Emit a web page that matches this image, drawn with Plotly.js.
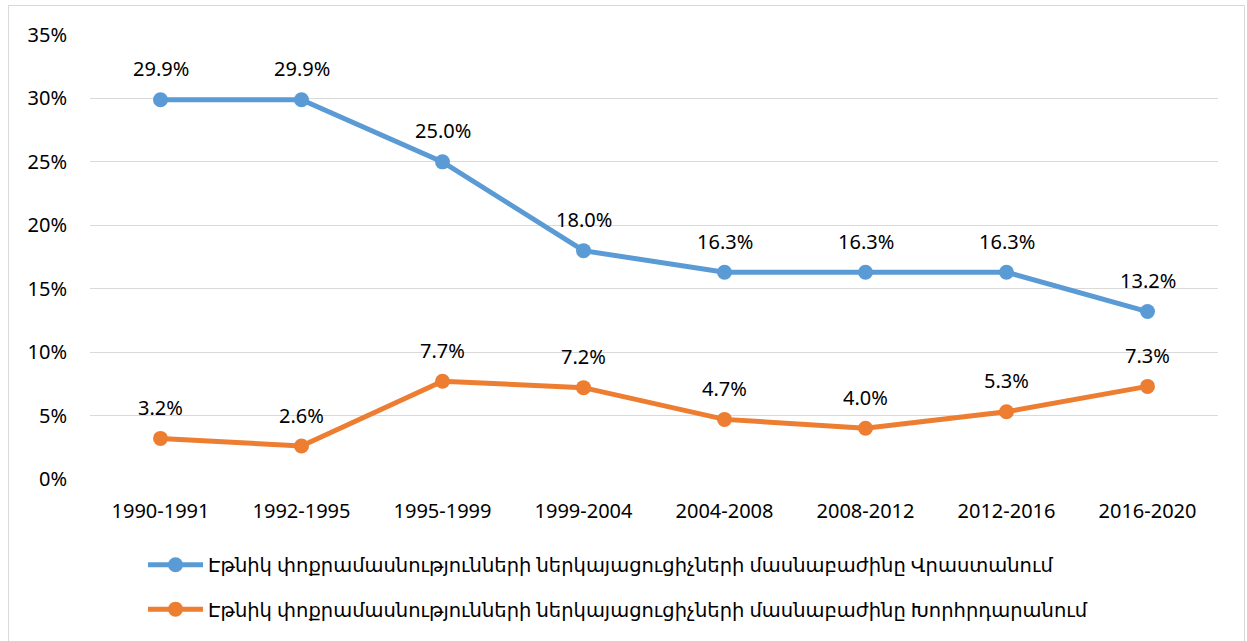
<!DOCTYPE html>
<html><head><meta charset="utf-8">
<script src="https://cdn.plot.ly/plotly-3.0.1.min.js"></script>
<style>
body{margin:0;background:#fff;}
#frame{position:absolute;left:8px;top:5px;width:1237px;height:640px;border:1px solid #d9d9d9;box-sizing:border-box;}
#chart{position:absolute;left:0;top:0;width:1247px;height:641px;}
</style></head>
<body>
<div id="frame"></div>
<div id="chart"></div>
<script>
const periods = ["1990-1991","1992-1995","1995-1999","1999-2004","2004-2008","2008-2012","2012-2016","2016-2020"];
const georgia = [29.9, 29.9, 25.0, 18.0, 16.3, 16.3, 16.3, 13.2];
const javakheti = [3.2, 2.6, 7.7, 7.2, 4.7, 4.0, 5.3, 7.3];
const nameGeorgia = "Էթնիկ փոքրամասնությունների ներկայացուցիչների մասնաբաժինը Վրաստանում";
const nameJavakheti = "Էթնիկ փոքրամասնությունների ներկայացուցիչների մասնաբաժինը Խորհրդարանում";
const yTicks = [0,5,10,15,20,25,30,35];
const yTickText = yTicks.map(v => v + "%");

const FONT = "'Noto Sans', 'DejaVu Sans', sans-serif";
function tr(vals, name, color, grp){
  return {
    x: periods, y: vals, name: name, type: "scatter", mode: "lines+markers",
    line: {color: color, width: 5},
    marker: {color: color, size: 15},
    cliponaxis: false,
    legendgroup: grp
  };
}
const data = [tr(georgia, nameGeorgia, "#5B9BD5", "a"), tr(javakheti, nameJavakheti, "#ED7D31", "b")];
const annotations = [];
[georgia, javakheti].forEach(series => {
  series.forEach((v, i) => {
    annotations.push({x: periods[i], y: v, xref: "x", yref: "y", text: v.toFixed(1) + "%",
      showarrow: false, yshift: 31, font: {family: FONT, size: 20, color: "#000"}});
  });
});
const layout = {
  width: 1247, height: 641,
  margin: {l: 90, r: 29, t: 35, b: 160},
  paper_bgcolor: "rgba(0,0,0,0)", plot_bgcolor: "rgba(0,0,0,0)",
  font: {family: FONT, size: 20, color: "#000"},
  showlegend: true,
  annotations: annotations,
  xaxis: {type: "category", range: [-0.5, 7.5], showgrid: false, zeroline: false,
    showline: false, ticks: "", ticklabelstandoff: 18, tickfont: {family: FONT, size: 20}},
  yaxis: {range: [0, 35], tickvals: yTicks, ticktext: yTickText, showgrid: true,
    gridcolor: "#d9d9d9", gridwidth: 1, zeroline: false, showline: false, ticks: "",
    ticklabelstandoff: 22, tickfont: {family: FONT, size: 20}},
  legend: {orientation: "v", x: 0.047, xanchor: "left", y: -0.15, yanchor: "top",
    itemwidth: 55,
    traceorder: "grouped", tracegroupgap: 16, font: {family: FONT, size: 19.5},
    bgcolor: "rgba(0,0,0,0)"}
};
Plotly.newPlot("chart", data, layout, {displayModeBar: false, staticPlot: true});
</script>
</body></html>
